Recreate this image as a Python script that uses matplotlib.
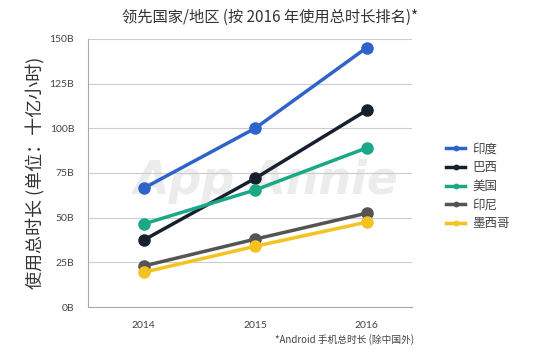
import matplotlib
matplotlib.use("Agg")
import matplotlib.pyplot as plt

years = [2014, 2015, 2016]
countries = ["印度", "巴西", "美国", "印尼", "墨西哥"]
india = [66.5, 100, 145]
brazil = [37.5, 72, 110]
usa = [46.5, 65.5, 89]
indonesia = [23, 38, 52.5]
mexico = [19.5, 34, 47.5]
series = [india, brazil, usa, indonesia, mexico]
colors = ["#2f63c9", "#17202e", "#1aa886", "#545454", "#f4c321"]
yticks = [0, 25, 50, 75, 100, 125, 150]
ytick_labels = ["0B", "25B", "50B", "75B", "100B", "125B", "150B"]

cjk = ['Noto Sans CJK SC', 'DejaVu Sans']
plt.rcParams['font.family'] = cjk

fig = plt.figure(figsize=(5.34, 3.53), dpi=100)
ax = fig.add_axes([0.165, 0.130, 0.607, 0.760])

ax.text(0.55, 0.47, "App Annie", transform=ax.transAxes, fontsize=33, style='italic',
        color='#ececec', ha='center', va='center', family='DejaVu Sans', fontweight='bold', zorder=0)

for vals, c, name in zip(series, colors, countries):
    ax.plot(years, vals, color=c, lw=2.5, marker='o', markersize=8, label=name, zorder=3)

ax.set_xlim(2013.5, 2016.41)
ax.set_ylim(0, 150)
ax.set_yticks(yticks)
ax.set_yticklabels(ytick_labels)
ax.set_xticks(years)
ax.set_xticklabels([str(y) for y in years])
ax.grid(axis='y', color='#cccccc', lw=0.8)
ax.set_axisbelow(True)
for s in ['top', 'right']:
    ax.spines[s].set_visible(False)
for s in ['left', 'bottom']:
    ax.spines[s].set_color('#aaaaaa')
    ax.spines[s].set_linewidth(0.8)
ax.tick_params(length=0, labelsize=7.5, colors='#444444', pad=10)
for lab in ax.get_yticklabels() + ax.get_xticklabels():
    lab.set_family(['Lato', 'DejaVu Sans'])

ax.set_ylabel("使用总时长 (单位：十亿小时)", fontsize=13, color='#333333', labelpad=3)

leg = ax.legend(loc='center left', bbox_to_anchor=(1.07, 0.45), frameon=False,
                fontsize=9, handlelength=1.5, markerscale=0.4, labelspacing=0.45,
                handletextpad=0.6)
for t in leg.get_texts():
    t.set_color('#444444')

fig.text(0.505, 0.952, "领先国家/地区 (按 2016 年使用总时长排名)*", ha='center', va='center',
         fontsize=11, color='#333333')
fig.text(0.645, 0.038, "*Android 手机总时长 (除中国外)", ha='center', va='center',
         fontsize=7, color='#444444')

fig.savefig("out.png", dpi=100)
